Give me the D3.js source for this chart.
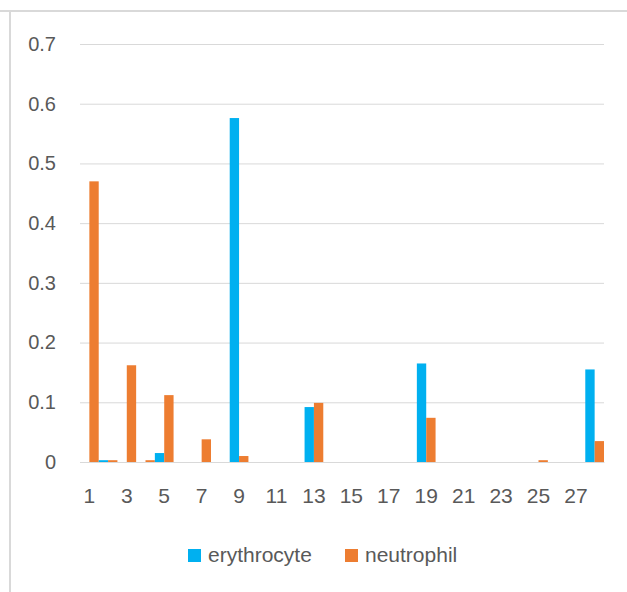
<!DOCTYPE html>
<html>
<head>
<meta charset="utf-8">
<script src="https://cdn.jsdelivr.net/npm/d3@7"></script>
<style>
  html, body { margin: 0; padding: 0; background: #fff; }
  svg { display: block; }
  text { font-family: "Liberation Sans", Arial, sans-serif; fill: #595959; }
</style>
</head>
<body>
<svg id="chart" width="627" height="592"></svg>
<script>
const categories = ["1","2","3","4","5","6","7","8","9","10","11","12","13","14","15","16","17","18","19","20","21","22","23","24","25","26","27","28"];
const seriesNames = ["erythrocyte", "neutrophil"];
const erythrocyte = [0, 0.003, 0, 0, 0.015, 0, 0, 0, 0.576, 0, 0, 0, 0.092, 0, 0, 0, 0, 0, 0.165, 0, 0, 0, 0, 0, 0, 0, 0, 0.155];
const neutrophil  = [0.47, 0.003, 0.162, 0.003, 0.112, 0, 0.038, 0, 0.01, 0, 0, 0, 0.099, 0, 0, 0, 0, 0, 0.074, 0, 0, 0, 0, 0, 0.003, 0, 0, 0.035];
const yTicks = [0, 0.1, 0.2, 0.3, 0.4, 0.5, 0.6, 0.7];
const xTickLabels = ["1","3","5","7","9","11","13","15","17","19","21","23","25","27"];
const colors = ["#00B0F0", "#ED7D31"];

const svg = d3.select("#chart");
const W = 627, H = 592;
const plot = { left: 80, right: 604, top: 44, bottom: 462 };

// frame (top and left edges visible)
svg.append("line").attr("x1", 0).attr("x2", W).attr("y1", 11).attr("y2", 11)
  .attr("stroke", "#d9d9d9").attr("stroke-width", 2);
svg.append("line").attr("x1", 10).attr("x2", 10).attr("y1", 10).attr("y2", H)
  .attr("stroke", "#d9d9d9").attr("stroke-width", 2);

const x = d3.scaleBand().domain(categories).range([plot.left, plot.right]).paddingInner(0).paddingOuter(0);
const xs = d3.scaleBand().domain(seriesNames).range([0, x.bandwidth()]).padding(0);
const y = d3.scaleLinear().domain([0, 0.7]).range([plot.bottom, plot.top]);

// gridlines
const yAxis = d3.axisLeft(y).tickValues(yTicks).tickSize(-(plot.right - plot.left))
  .tickPadding(24).tickFormat(d => d === 0 ? "0" : d3.format(".1f")(d));
const gy = svg.append("g").attr("transform", `translate(${plot.left},0)`).call(yAxis);
gy.select(".domain").remove();
gy.selectAll(".tick line").attr("stroke", "#d9d9d9").attr("stroke-width", 1);
gy.selectAll(".tick text").attr("font-size", 20).attr("fill", "#595959")
  .style("font-family", '"Liberation Sans", Arial, sans-serif');

// bars
const data = categories.map((c, i) => ({ cat: c, values: [erythrocyte[i], neutrophil[i]] }));
const groups = svg.append("g").selectAll("g").data(data).join("g")
  .attr("transform", d => `translate(${x(d.cat)},0)`);
groups.selectAll("rect").data(d => d.values.map((v, j) => ({ name: seriesNames[j], v, j })))
  .join("rect")
  .attr("x", d => xs(d.name))
  .attr("width", xs.bandwidth())
  .attr("y", d => y(d.v))
  .attr("height", d => y(0) - y(d.v))
  .attr("fill", d => colors[d.j]);

// x axis
const xAxis = d3.axisBottom(x).tickValues(xTickLabels).tickSize(0).tickPadding(26);
const gx = svg.append("g").attr("transform", `translate(0,${plot.bottom})`).call(xAxis);
gx.select(".domain").attr("stroke", "#d9d9d9");
gx.selectAll(".tick text").attr("font-size", 21).attr("fill", "#595959")
  .style("font-family", '"Liberation Sans", Arial, sans-serif');

// legend
const legendItems = [
  { name: seriesNames[0], color: colors[0], sx: 188, tx: 208 },
  { name: seriesNames[1], color: colors[1], sx: 345, tx: 365 }
];
const lg = svg.append("g");
legendItems.forEach(it => {
  lg.append("rect").attr("x", it.sx).attr("y", 549).attr("width", 13).attr("height", 13).attr("fill", it.color);
  lg.append("text").attr("x", it.tx).attr("y", 562).attr("font-size", 21).text(it.name);
});
</script>
</body>
</html>
